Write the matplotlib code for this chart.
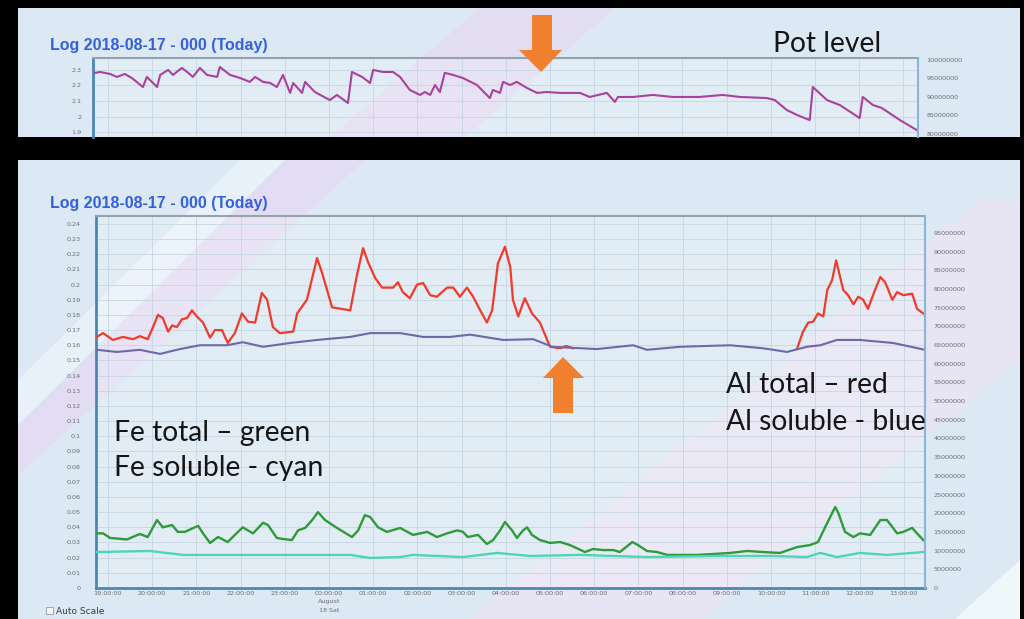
import matplotlib.pyplot as plt
from matplotlib.patches import Rectangle, Polygon
import numpy as np

# time axis: hours after 19:00 on 2018-08-17
hour_labels = ['19:00:00', '20:00:00', '21:00:00', '22:00:00', '23:00:00',
               '00:00:00\nAugust\n18 Sat', '01:00:00', '02:00:00', '03:00:00',
               '04:00:00', '05:00:00', '06:00:00', '07:00:00', '08:00:00',
               '09:00:00', '10:00:00', '11:00:00', '12:00:00', '13:00:00']

# pot level (top chart)
pot_level = [(-0.30, 2.281), (-0.18, 2.287), (0.05, 2.274), (0.20, 2.255), (0.38, 2.274),
             (0.54, 2.248), (0.79, 2.19), (0.88, 2.255), (1.11, 2.19), (1.18, 2.268),
             (1.36, 2.30), (1.47, 2.268), (1.67, 2.313), (1.79, 2.287), (1.92, 2.255),
             (2.08, 2.313), (2.24, 2.268), (2.47, 2.255), (2.53, 2.319), (2.76, 2.268),
             (2.99, 2.248), (3.21, 2.223), (3.33, 2.255), (3.51, 2.223), (3.67, 2.216),
             (3.82, 2.19), (3.96, 2.268), (4.12, 2.152), (4.19, 2.216), (4.39, 2.152),
             (4.46, 2.223), (4.68, 2.158), (5.02, 2.106), (5.18, 2.139), (5.43, 2.087),
             (5.52, 2.287), (5.75, 2.255), (5.93, 2.216), (6.00, 2.30), (6.22, 2.287),
             (6.45, 2.287), (6.61, 2.255), (6.83, 2.171), (7.06, 2.139), (7.17, 2.158),
             (7.29, 2.139), (7.40, 2.203), (7.51, 2.158), (7.62, 2.281), (7.81, 2.268),
             (8.03, 2.248), (8.35, 2.203), (8.64, 2.119), (8.71, 2.171), (8.87, 2.152),
             (8.94, 2.223), (9.10, 2.203), (9.25, 2.223), (9.48, 2.184), (9.71, 2.152),
             (9.93, 2.158), (10.23, 2.152), (10.68, 2.152), (10.90, 2.126), (11.29, 2.152),
             (11.47, 2.094), (11.54, 2.126), (11.88, 2.126), (12.33, 2.139), (12.78, 2.126),
             (13.39, 2.126), (13.91, 2.139), (14.30, 2.126), (14.91, 2.119), (15.09, 2.106),
             (15.36, 2.042), (15.59, 2.01), (15.88, 1.977), (15.95, 2.19), (16.27, 2.106),
             (16.56, 2.074), (17.01, 1.99), (17.08, 2.126), (17.31, 2.074), (17.51, 2.055),
             (17.92, 1.977), (18.30, 1.913)]

# Al total (red), two visible stretches
al_total_a = [(-0.25, 0.1655), (-0.11, 0.168), (0.11, 0.1635), (0.34, 0.1655), (0.57, 0.164),
              (0.72, 0.166), (0.90, 0.164), (1.02, 0.172), (1.13, 0.180), (1.24, 0.178),
              (1.36, 0.169), (1.45, 0.173), (1.56, 0.172), (1.67, 0.177), (1.79, 0.178),
              (1.90, 0.183), (2.01, 0.179), (2.15, 0.175), (2.31, 0.165), (2.42, 0.170),
              (2.58, 0.170), (2.71, 0.1615), (2.87, 0.168), (3.03, 0.181), (3.17, 0.1755),
              (3.33, 0.175), (3.48, 0.1945), (3.60, 0.190), (3.73, 0.172), (3.89, 0.168),
              (4.19, 0.169), (4.28, 0.181), (4.50, 0.190), (4.73, 0.2175), (4.84, 0.208),
              (5.07, 0.185), (5.48, 0.183), (5.63, 0.206), (5.77, 0.224), (5.88, 0.215),
              (6.04, 0.2045), (6.20, 0.198), (6.45, 0.198), (6.56, 0.2015), (6.67, 0.195),
              (6.83, 0.191), (6.99, 0.200), (7.13, 0.201), (7.29, 0.193), (7.44, 0.192),
              (7.67, 0.198), (7.81, 0.198), (7.96, 0.192), (8.12, 0.198), (8.26, 0.192),
              (8.42, 0.183), (8.57, 0.175), (8.69, 0.183), (8.82, 0.214), (8.98, 0.225),
              (9.10, 0.2115), (9.16, 0.190), (9.28, 0.179), (9.43, 0.191), (9.59, 0.181),
              (9.77, 0.175), (10.00, 0.159), (10.23, 0.158), (10.36, 0.1595), (10.52, 0.158)]
al_total_b = [(15.59, 0.158), (15.72, 0.169), (15.84, 0.175), (15.95, 0.1755), (16.06, 0.181),
              (16.18, 0.179), (16.27, 0.1965), (16.38, 0.203), (16.47, 0.216), (16.56, 0.205),
              (16.63, 0.1965), (16.74, 0.193), (16.86, 0.187), (16.97, 0.192), (17.08, 0.190),
              (17.19, 0.184), (17.35, 0.1965), (17.47, 0.205), (17.58, 0.2015), (17.74, 0.190),
              (17.85, 0.195), (17.99, 0.193), (18.19, 0.194), (18.30, 0.184), (18.44, 0.181)]

# Al soluble (blue)
al_soluble = [(-0.25, 0.157), (0.20, 0.1556), (0.72, 0.157), (1.18, 0.1543), (1.63, 0.1575),
              (2.08, 0.160), (2.69, 0.160), (3.05, 0.162), (3.51, 0.159), (4.12, 0.1615),
              (4.73, 0.1635), (5.48, 0.1655), (5.93, 0.168), (6.61, 0.168), (7.13, 0.1655),
              (7.74, 0.1655), (8.19, 0.167), (8.94, 0.1635), (9.62, 0.164), (10.05, 0.159),
              (11.06, 0.1575), (11.88, 0.160), (12.19, 0.157), (12.94, 0.159), (14.07, 0.160),
              (14.82, 0.158), (15.36, 0.1556), (15.81, 0.159), (16.11, 0.160), (16.49, 0.1635),
              (17.01, 0.1635), (17.76, 0.1615), (18.48, 0.157)]

# Fe total (green)
fe_total = [(-0.25, 0.036), (-0.11, 0.036), (0.05, 0.033), (0.43, 0.032), (0.72, 0.0356),
            (0.90, 0.0336), (1.11, 0.0448), (1.24, 0.040), (1.45, 0.0415), (1.58, 0.037),
            (1.74, 0.037), (2.04, 0.041), (2.15, 0.036), (2.31, 0.0297), (2.49, 0.0336),
            (2.71, 0.0303), (2.87, 0.035), (3.05, 0.040), (3.28, 0.036), (3.51, 0.043),
            (3.62, 0.0415), (3.82, 0.033), (3.96, 0.0323), (4.16, 0.0316), (4.30, 0.038),
            (4.46, 0.0396), (4.62, 0.0448), (4.75, 0.050), (4.91, 0.0448), (5.18, 0.0396),
            (5.52, 0.0336), (5.66, 0.038), (5.81, 0.048), (5.93, 0.0468), (6.11, 0.040),
            (6.31, 0.037), (6.61, 0.0396), (6.90, 0.035), (7.22, 0.037), (7.44, 0.0336),
            (7.67, 0.036), (7.90, 0.038), (8.03, 0.037), (8.14, 0.0336), (8.37, 0.035),
            (8.57, 0.029), (8.71, 0.0316), (8.87, 0.038), (8.98, 0.0435), (9.14, 0.038),
            (9.25, 0.033), (9.39, 0.038), (9.48, 0.040), (9.59, 0.035), (9.77, 0.0316),
            (10.00, 0.0297), (10.23, 0.0303), (10.45, 0.0283), (10.79, 0.0237), (10.97, 0.0257),
            (11.20, 0.025), (11.43, 0.025), (11.58, 0.0237), (11.86, 0.0303), (11.99, 0.0283),
            (12.19, 0.0244), (12.42, 0.0237), (12.65, 0.0218), (13.33, 0.0218), (13.69, 0.0224),
            (14.07, 0.0231), (14.46, 0.0244), (14.82, 0.0237), (15.20, 0.0231), (15.59, 0.027),
            (15.88, 0.0283), (16.06, 0.0303), (16.27, 0.043), (16.45, 0.0534), (16.52, 0.0494),
            (16.67, 0.037), (16.86, 0.0336), (17.01, 0.036), (17.24, 0.035), (17.47, 0.0448),
            (17.62, 0.0448), (17.85, 0.036), (17.99, 0.037), (18.19, 0.0396), (18.30, 0.036),
            (18.44, 0.0316)]

# Fe soluble (cyan)
fe_soluble = [(-0.25, 0.0237), (0.95, 0.0244), (1.70, 0.0218), (2.83, 0.0218), (4.34, 0.0218),
              (5.48, 0.0218), (5.93, 0.0198), (6.61, 0.0204), (6.90, 0.0218), (8.03, 0.0204),
              (8.80, 0.0231), (9.55, 0.0211), (10.68, 0.0218), (12.19, 0.0204), (13.69, 0.0211),
              (15.05, 0.0211), (15.81, 0.0204), (16.11, 0.0231), (16.49, 0.0204), (17.01, 0.0231),
              (17.62, 0.0218), (18.44, 0.0237)]

W, H = 1024, 619
fig = plt.figure(figsize=(W / 100, H / 100), dpi=100, facecolor='black')


def fpt(x, y):
    return (x / W, 1 - y / H)


def panel(x0, y0, x1, y1):
    r = Rectangle(fpt(x0, y1), (x1 - x0) / W, (y1 - y0) / H, transform=fig.transFigure,
                  facecolor='#dce8f4', edgecolor='none', zorder=-3)
    fig.patches.append(r)
    return r


def band(pts, color, clip):
    p = Polygon([fpt(x, y) for x, y in pts], closed=True, transform=fig.transFigure,
                facecolor=color, edgecolor='none', zorder=-2)
    p.set_clip_path(clip)
    fig.patches.append(p)


top_panel = panel(18, 8, 1020, 137)
low_panel = panel(18, 160, 1020, 619)
band([(330, 137), (480, 8), (615, 8), (465, 137)], '#e3ddf2', top_panel)
band([(18, 475), (18, 425), (285, 160), (365, 160)], '#e3ddf3', low_panel)
band([(18, 425), (18, 380), (240, 160), (285, 160)], '#e8f0f9', low_panel)
band([(470, 619), (700, 619), (1020, 360), (1020, 200), (980, 200)], '#e7e5f4', low_panel)
band([(1020, 560), (1020, 619), (955, 619)], '#eef8fb', low_panel)

tick_col = '#6d6d6d'


def style_axes(ax, twin):
    ax.set_facecolor((1, 1, 1, 0.18))
    ax.spines['left'].set_color('#4a86b8')
    ax.spines['left'].set_linewidth(2)
    ax.spines['bottom'].set_color('#4a86b8')
    ax.spines['bottom'].set_linewidth(2)
    ax.spines['top'].set_color('#95a3ad')
    ax.spines['top'].set_linewidth(1.5)
    ax.spines['right'].set_visible(False)
    for s in ['left', 'top', 'bottom']:
        twin.spines[s].set_visible(False)
    twin.spines['right'].set_color('#86b6d8')
    twin.spines['right'].set_linewidth(1.5)
    ax.tick_params(length=0, labelsize=4.6, labelcolor=tick_col)
    twin.tick_params(length=0, labelsize=4.6, labelcolor=tick_col, pad=6)
    ax.grid(True, color='#c6d6e3', linewidth=0.6)
    ax.set_axisbelow(True)


# ---- top chart: pot level ----
ax1 = fig.add_axes([93 / W, 1 - 137 / H, 825 / W, 79 / H])
ax1r = ax1.twinx()
style_axes(ax1, ax1r)
ax1.spines['bottom'].set_visible(False)
pt, pv = np.array(pot_level).T
ax1.plot(pt, pv, color='#a8429e', lw=1.5, zorder=3)
ax1.set_xlim(-0.34, 18.33)
ax1.set_ylim(1.868, 2.377)
ax1.set_xticks(range(19))
ax1.set_xticklabels([])
ax1.set_yticks([1.9, 2.0, 2.1, 2.2, 2.3])
ax1.set_yticklabels(['1.9', '2', '2.1', '2.2', '2.3'])
ax1.tick_params(axis='y', pad=8)
ax1r.set_ylim(79.2e6, 100.5e6)
ax1r.set_yticks(np.arange(80e6, 100.1e6, 5e6))
ax1r.set_yticklabels([f'{int(v)}' for v in np.arange(80e6, 100.1e6, 5e6)])

# ---- lower chart: Al / Fe ----
ax2 = fig.add_axes([96 / W, 1 - 588 / H, 829 / W, 372 / H])
ax2r = ax2.twinx()
style_axes(ax2, ax2r)
at_a, av_a = np.array(al_total_a).T
at_b, av_b = np.array(al_total_b).T
ax2.plot(np.r_[at_a, np.nan, at_b], np.r_[av_a, np.nan, av_b], color='#f03a2a', lw=1.6, zorder=3)
st, sv = np.array(al_soluble).T
ax2.plot(st, sv, color='#6c68aa', lw=1.5, zorder=4)
gt, gv = np.array(fe_total).T
ax2.plot(gt, gv, color='#2f9a3a', lw=1.7, zorder=3)
ct, cv = np.array(fe_soluble).T
ax2.plot(ct, cv, color='#4cd6b6', lw=1.7, zorder=3)
ax2.set_xlim(-0.27, 18.48)
ax2.set_ylim(0, 0.2452)
left_ticks = [round(i * 0.01, 2) for i in range(25)]
ax2.set_yticks(left_ticks)
ax2.set_yticklabels([f'{v:g}' for v in left_ticks])
ax2.tick_params(axis='y', pad=11)
ax2.set_xticks(range(19))
ax2.set_xticklabels(hour_labels, linespacing=1.9, va='top')
ax2.tick_params(axis='x', pad=2)
right_ticks = np.arange(0, 95.1e6, 5e6)
ax2r.set_ylim(0, 99.5e6)
ax2r.set_yticks(right_ticks)
ax2r.set_yticklabels([f'{int(v)}' for v in right_ticks])

# ---- titles and annotations ----
title_kw = dict(color='#3461dc', fontsize=11.5, fontweight='bold', family='Liberation Sans',
                va='baseline', ha='left')
fig.text(*fpt(50, 50), 'Log 2018-08-17 - 000 (Today)', **title_kw)
fig.text(*fpt(50, 208), 'Log 2018-08-17 - 000 (Today)', **title_kw)

note_kw = dict(color='#151515', fontsize=20.3, family='Lato', va='baseline', ha='left')
fig.text(*fpt(773, 52), 'Pot level', **note_kw)
fig.text(*fpt(114, 441), 'Fe total \u2013 green', **note_kw)
fig.text(*fpt(114, 476), 'Fe soluble - cyan', **note_kw)
fig.text(*fpt(726, 393), 'Al total \u2013 red', **note_kw)
fig.text(*fpt(726, 430), 'Al soluble - blue', **note_kw)

orange = '#f07f2e'
down_arrow = [(532, 15), (552, 15), (552, 50), (562, 50), (541, 72), (519, 50), (532, 50)]
up_arrow = [(563, 357), (584, 378), (573, 378), (573, 413), (553, 413), (553, 378), (543, 378)]
for pts in (down_arrow, up_arrow):
    fig.patches.append(Polygon([fpt(x, y) for x, y in pts], closed=True,
                               transform=fig.transFigure, facecolor=orange,
                               edgecolor='none', zorder=10))

# Auto Scale checkbox
fig.patches.append(Rectangle(fpt(46, 614), 7 / W, 7 / H, transform=fig.transFigure,
                             facecolor='#f4f4f4', edgecolor='#9a9a9a', linewidth=0.6, zorder=5))
fig.text(*fpt(56, 612), 'Auto Scale', color='#3a3a3a', fontsize=6.5, va='center', ha='left')

fig.savefig('out.png', dpi=100, facecolor='black')
